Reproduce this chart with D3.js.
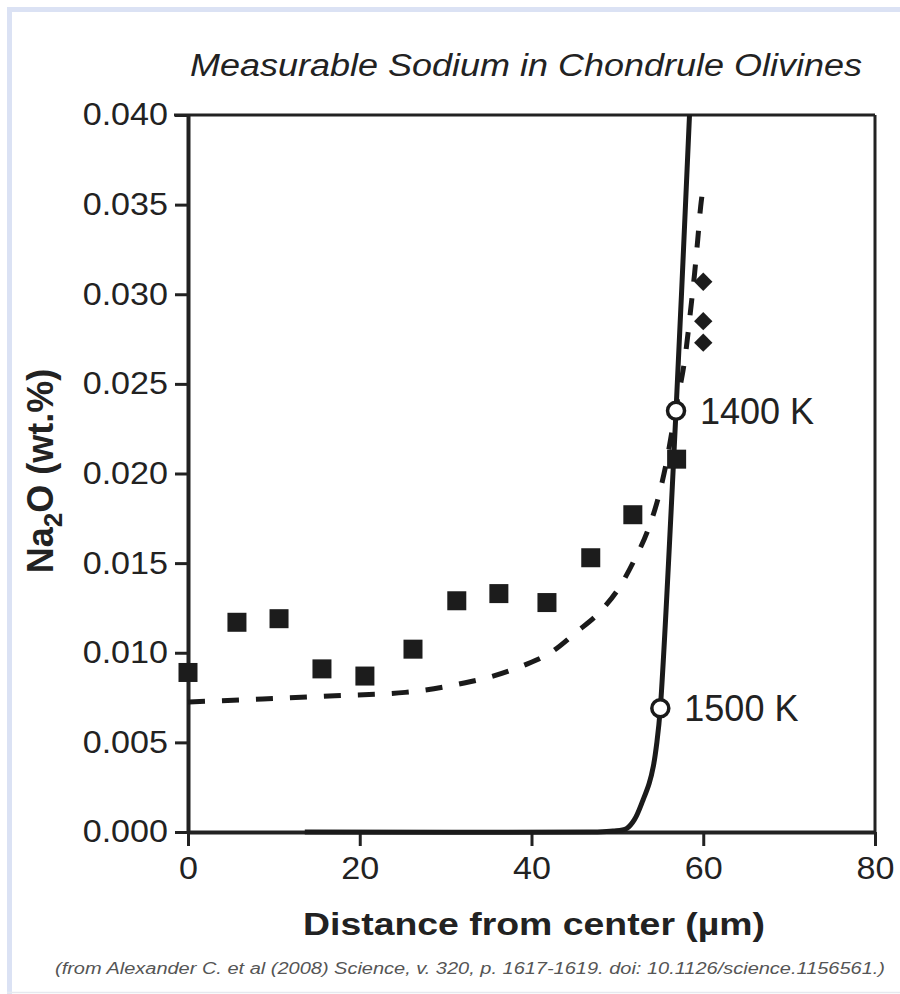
<!DOCTYPE html>
<html>
<head>
<meta charset="utf-8">
<script src="https://cdn.jsdelivr.net/npm/d3@7"></script>
<style>
  body { margin: 0; background: #fff; }
  text { font-family: "Liberation Sans", Arial, Helvetica, sans-serif; fill: #222; }
</style>
</head>
<body>
<div id="chart"></div>
<script>
// values
var xTicks = [0, 20, 40, 60, 80];
var yTicks = [0, 0.005, 0.010, 0.015, 0.020, 0.025, 0.030, 0.035, 0.040];

// measured Na2O (squares)
var squares = [
  [0, 0.0089], [5.7, 0.0117], [10.6, 0.0119], [15.6, 0.0091],
  [20.6, 0.0087], [26.2, 0.0102], [31.3, 0.0129], [36.2, 0.0133],
  [41.8, 0.0128], [46.9, 0.0153], [51.8, 0.0177], [56.9, 0.0208]
];
// rim points (diamonds)
var diamonds = [[60, 0.0307], [60, 0.0285], [60, 0.0273]];

// dashed model curve
var dashedModel = [
  [0, 0.00725], [8.7, 0.00742], [17.1, 0.0076], [25.3, 0.00779],
  [32.3, 0.00833], [35.7, 0.00872], [39.0, 0.00928], [42.2, 0.0100],
  [45.1, 0.0111], [48.2, 0.0124], [50.3, 0.0137], [52.0, 0.0152],
  [53.6, 0.0169], [54.9, 0.0189], [55.7, 0.0206], [56.8, 0.0236],
  [58.0, 0.0269], [58.5, 0.0290], [59.0, 0.0312], [59.35, 0.0330],
  [59.7, 0.0349], [59.85, 0.0355]
];
// solid model curve
var solidModel = [
  [13.6, 0], [47, 0], [49.5, 0.00005], [51.1, 0.0002], [52.0, 0.0007],
  [53.0, 0.0018], [53.7, 0.0027], [54.2, 0.0037], [54.6, 0.0050],
  [55.0, 0.0069], [56.83, 0.0235], [58.4, 0.0400]
];
// temperature marks on the solid curve
var tempLabels = ["1400 K", "1500 K"];
var tempX = [56.83, 55.0];
var tempY = [0.0235, 0.0069];

var width = 900, height = 994;
var margin = {top: 115, right: 25, bottom: 162, left: 188};

var svg = d3.select('#chart').append('svg')
    .attr('width', width)
    .attr('height', height);

// light blue frame of the page
svg.append('path')
    .attr('d', 'M9.5,994 V9.5 H900')
    .attr('fill', 'none')
    .attr('stroke', '#dbe2f4')
    .attr('stroke-width', 5);
svg.append('line')
    .attr('x1', 7).attr('x2', 900).attr('y1', 992.5).attr('y2', 992.5)
    .attr('stroke', '#e6e9ef').attr('stroke-width', 1.5);

var x = d3.scaleLinear().domain([0, 80]).range([margin.left, width - margin.right]);
var y = d3.scaleLinear().domain([0, 0.04]).range([height - margin.bottom, margin.top]);

function stretch(sel, k) {
    sel.each(function () {
        var w = this.getComputedTextLength();
        d3.select(this).attr('textLength', w * k).attr('lengthAdjust', 'spacingAndGlyphs');
    });
}

// title
svg.append('text')
    .attr('x', 526).attr('y', 76)
    .attr('text-anchor', 'middle')
    .style('font-size', '31px')
    .style('font-style', 'italic')
    .text('Measurable Sodium in Chondrule Olivines')
    .attr('textLength', 672).attr('lengthAdjust', 'spacingAndGlyphs');

// clip for curves
svg.append('clipPath').attr('id', 'plotclip')
  .append('rect')
    .attr('x', x(0) - 10).attr('y', y(0.04))
    .attr('width', x(80) - x(0) + 10).attr('height', y(0) - y(0.04) + 4);

// frame top and right
svg.append('line')
    .attr('x1', x(0) - 14).attr('x2', x(80))
    .attr('y1', y(0.04)).attr('y2', y(0.04))
    .attr('stroke', '#222').attr('stroke-width', 3);
svg.append('line')
    .attr('x1', x(80)).attr('x2', x(80))
    .attr('y1', y(0.04)).attr('y2', y(0))
    .attr('stroke', '#222').attr('stroke-width', 3);

// axes
var yAxis = svg.append('g')
    .attr('transform', 'translate(' + x(0) + ',0)')
    .call(d3.axisLeft(y).tickValues(yTicks).tickFormat(d3.format('.3f'))
        .tickSize(13).tickSizeOuter(0).tickPadding(7));
var xAxis = svg.append('g')
    .attr('transform', 'translate(0,' + y(0) + ')')
    .call(d3.axisBottom(x).tickValues(xTicks).tickFormat(d3.format('d'))
        .tickSize(14).tickSizeOuter(0).tickPadding(11));

[yAxis, xAxis].forEach(function (ax) {
    ax.select('.domain').attr('stroke', '#222').attr('stroke-width', 4);
    ax.selectAll('.tick line').attr('stroke', '#222').attr('stroke-width', 3);
    ax.selectAll('.tick text')
        .style('font-size', '31px')
        .style('font-family', '"Liberation Sans", Arial, sans-serif')
        .attr('fill', '#2a2a2a');
});
stretch(yAxis.selectAll('.tick text'), 1.1);
stretch(xAxis.selectAll('.tick text'), 1.1);

// axis titles
svg.append('text')
    .attr('x', 534).attr('y', 935)
    .attr('text-anchor', 'middle')
    .style('font-size', '32px')
    .style('font-weight', 'bold')
    .text('Distance from center (µm)')
    .attr('textLength', 462).attr('lengthAdjust', 'spacingAndGlyphs');

var yl = svg.append('text')
    .attr('transform', 'translate(53,471) rotate(-90)')
    .attr('text-anchor', 'middle')
    .style('font-size', '36px')
    .style('font-weight', 'bold');
yl.append('tspan').text('Na');
yl.append('tspan').text('2').attr('dy', 9).style('font-size', '26px');
yl.append('tspan').text('O (wt.%)').attr('dy', -9);

// footnote
svg.append('text')
    .attr('x', 470).attr('y', 974)
    .attr('text-anchor', 'middle')
    .style('font-size', '16px')
    .style('font-style', 'italic')
    .style('fill', '#555')
    .text('(from Alexander C. et al (2008) Science, v. 320, p. 1617-1619. doi: 10.1126/science.1156561.)')
    .attr('textLength', 830).attr('lengthAdjust', 'spacingAndGlyphs');

var line = d3.line()
    .x(function (d) { return x(d[0]); })
    .y(function (d) { return y(d[1]); })
    .curve(d3.curveMonotoneX);

var plot = svg.append('g').attr('clip-path', 'url(#plotclip)');

plot.append('path')
    .datum(dashedModel)
    .attr('d', line)
    .attr('fill', 'none')
    .attr('stroke', '#1a1a1a')
    .attr('stroke-width', 5)
    .attr('stroke-dasharray', '17,17');

plot.append('path')
    .datum(solidModel)
    .attr('d', line.curve(d3.curveCatmullRom.alpha(0.5)))
    .attr('fill', 'none')
    .attr('stroke', '#1a1a1a')
    .attr('stroke-width', 5);

// squares
var sq = 19;
svg.selectAll('rect.sq')
    .data(squares)
    .enter()
    .append('rect')
    .classed('sq', true)
    .attr('x', function (d) { return x(d[0]) - sq / 2; })
    .attr('y', function (d) { return y(d[1]) - sq / 2; })
    .attr('width', sq)
    .attr('height', sq)
    .attr('fill', '#1c1c1c');

// diamonds
var dm = 13;
svg.selectAll('rect.dm')
    .data(diamonds)
    .enter()
    .append('rect')
    .classed('dm', true)
    .attr('x', -dm / 2).attr('y', -dm / 2)
    .attr('width', dm).attr('height', dm)
    .attr('transform', function (d) { return 'translate(' + x(d[0]) + ',' + y(d[1]) + ') rotate(45)'; })
    .attr('fill', '#1c1c1c');

// temperature markers
var temps = tempLabels.map(function (l, i) { return {label: l, x: tempX[i], y: tempY[i]}; });
svg.selectAll('circle.temp')
    .data(temps)
    .enter()
    .append('circle')
    .classed('temp', true)
    .attr('cx', function (d) { return x(d.x); })
    .attr('cy', function (d) { return y(d.y); })
    .attr('r', 8.5)
    .attr('fill', '#fff')
    .attr('stroke', '#1a1a1a')
    .attr('stroke-width', 3.5);

svg.selectAll('text.temp')
    .data(temps)
    .enter()
    .append('text')
    .classed('temp', true)
    .attr('x', function (d) { return x(d.x) + 24; })
    .attr('y', function (d) { return y(d.y); })
    .attr('dy', '0.36em')
    .style('font-size', '36px')
    .text(function (d) { return d.label; });
</script>
</body>
</html>
